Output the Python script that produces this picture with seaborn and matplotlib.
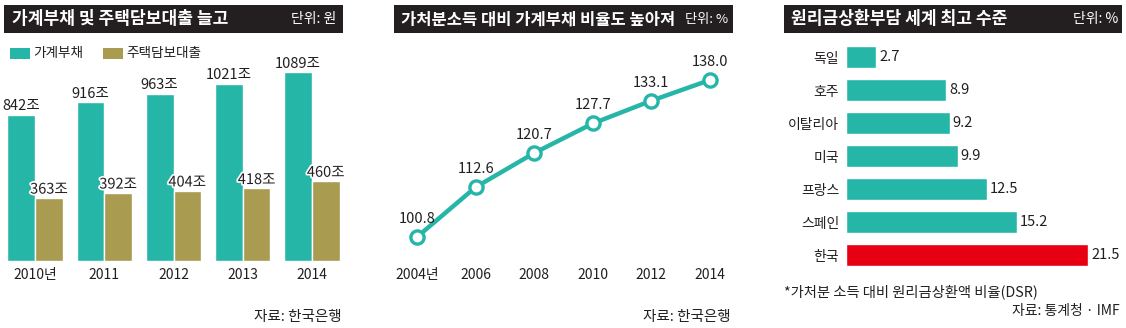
import matplotlib
matplotlib.use("Agg")
import matplotlib.pyplot as plt
import seaborn as sns
import pandas as pd
from matplotlib.patches import Rectangle
import matplotlib.patheffects as pe

# ---------------- data ----------------
years1 = ["2010년", "2011", "2012", "2013", "2014"]
household_debt = [842, 916, 963, 1021, 1089]
mortgage = [363, 392, 404, 418, 460]
series1 = ["가계부채", "주택담보대출"]

years2 = [2004, 2006, 2008, 2010, 2012, 2014]
year2_labels = ["2004년", "2006", "2008", "2010", "2012", "2014"]
debt_ratio = [100.8, 112.6, 120.7, 127.7, 133.1, 138.0]

countries = ["독일", "호주", "이탈리아", "미국", "프랑스", "스페인", "한국"]
dsr = [2.7, 8.9, 9.2, 9.9, 12.5, 15.2, 21.5]

titles = ["가계부채 및 주택담보대출 늘고",
          "가처분소득 대비 가계부채 비율도 높아져",
          "원리금상환부담 세계 최고 수준"]
units = ["단위: 원", "단위: %", "단위: %"]

# ---------------- style ----------------
TEAL = "#26b6a8"
OLIVE = "#a99b4f"
RED = "#e60012"
DARK = "#231f20"
TXT = "#231f20"

W, H = 1126, 328
sns.set_theme(style="white")
plt.rcParams['font.family'] = ['Noto Sans CJK KR', 'DejaVu Sans']
plt.rcParams['text.color'] = TXT
plt.rcParams['axes.labelcolor'] = TXT
plt.rcParams['xtick.color'] = TXT
plt.rcParams['ytick.color'] = TXT

fig = plt.figure(figsize=(W / 100, H / 100), dpi=100)
fig.patch.set_facecolor("white")


def fx(x):
    return x / W


def fy(y):
    return 1 - y / H


def ax_px(x0, y0, x1, y1):
    return fig.add_axes([x0 / W, 1 - y1 / H, (x1 - x0) / W, (y1 - y0) / H])


def clean(ax):
    for s in ax.spines.values():
        s.set_visible(False)
    ax.set_xlabel("")
    ax.set_ylabel("")
    ax.set_facecolor("none")


# title bars
bars_px = [(4, 343), (394, 733), (784, 1122)]
title_x = [12, 401, 791]
unit_x = [336, 728, 1118]
title_sizes = [12.3, 11.9, 12.3]
unit_sizes = [10, 9.5, 10]
for (x0, x1), tx, ux, t, u, ts, us in zip(bars_px, title_x, unit_x, titles, units,
                                           title_sizes, unit_sizes):
    fig.add_artist(Rectangle((fx(x0), fy(33)), (x1 - x0) / W, 28 / H,
                             transform=fig.transFigure, color=DARK, lw=0))
    fig.text(fx(tx), fy(19.5), t, color="white", fontsize=ts,
             fontweight="bold", va="center", ha="left")
    fig.text(fx(ux), fy(19.5), u, color="white", fontsize=us,
             va="center", ha="right")

# ---------------- panel 1 ----------------
df1 = pd.DataFrame({
    "연도": years1 * 2,
    "값": household_debt + mortgage,
    "구분": [series1[0]] * len(years1) + [series1[1]] * len(years1),
})
ax1 = ax_px(0.4, 40, 346.6, 261)
sns.barplot(data=df1, x="연도", y="값", hue="구분", palette=[TEAL, OLIVE],
            width=0.8, saturation=1, edgecolor="white", linewidth=1,
            legend=False, ax=ax1)
ax1.set_xlim(-0.5, 4.5)
ax1.set_ylim(0, 1273)
clean(ax1)
ax1.set_yticks([])
ax1.tick_params(axis="x", length=0, pad=5, labelsize=10)
for cont, vals, stroke in zip(ax1.containers, [household_debt, mortgage], [False, True]):
    labs = ax1.bar_label(cont, labels=[f"{v}조" for v in vals], padding=1,
                         fontsize=10.5, color=TXT)
    if stroke:
        for lb in labs:
            lb.set_path_effects([pe.withStroke(linewidth=2.5, foreground="white")])

# legend (manual)
for x0, col, lab in [(10, TEAL, series1[0]), (103, OLIVE, series1[1])]:
    fig.add_artist(Rectangle((fx(x0), fy(59)), 20 / W, 11 / H,
                             transform=fig.transFigure, color=col, lw=0))
    fig.text(fx(x0 + 23), fy(53.5), lab, fontsize=9.8, va="center", ha="left")

fig.text(fx(342), fy(317), "자료: 한국은행", fontsize=10.5, va="center", ha="right")

# ---------------- panel 2 ----------------
ax2 = ax_px(394, 40, 733, 261)
sns.lineplot(x=years2, y=debt_ratio, ax=ax2, color=TEAL, linewidth=3.2,
             marker="o", markersize=9.5, markerfacecolor="white",
             markeredgecolor=TEAL, markeredgewidth=2.4)
ax2.set_xlim(2003.215, 2014.785)
ax2.set_ylim(95.11, 147.48)
clean(ax2)
ax2.set_yticks([])
ax2.set_xticks(years2)
ax2.set_xticklabels(year2_labels)
ax2.tick_params(axis="x", length=0, pad=5, labelsize=10)
for x, v in zip(years2, debt_ratio):
    ax2.annotate(f"{v:.1f}", (x, v), xytext=(0, 8), textcoords="offset points",
                 ha="center", va="bottom", fontsize=10.5)
fig.text(fx(731), fy(317), "자료: 한국은행", fontsize=10.5, va="center", ha="right")

# ---------------- panel 3 ----------------
ax3 = ax_px(846, 40.5, 1122, 271.5)
sns.barplot(x=dsr, y=countries, hue=countries,
            palette=[TEAL] * (len(countries) - 1) + [RED],
            width=0.67, saturation=1, legend=False, orient="h", ax=ax3)
ax3.set_xlim(0, 24.5)
ax3.set_ylim(6.5, -0.5)
clean(ax3)
ax3.set_xticks([])
ax3.tick_params(axis="y", length=0, pad=5, labelsize=10)
for cont in ax3.containers:
    ax3.bar_label(cont, fmt="%.1f", padding=2, fontsize=10.5, color=TXT)

fig.text(fx(784), fy(292), "*가처분 소득 대비 원리금상환액 비율(DSR)",
         fontsize=10.3, va="center", ha="left")
fig.text(fx(1120), fy(311), "자료: 통계청 · IMF", fontsize=10,
         va="center", ha="right")

fig.savefig("out.png", dpi=100)
